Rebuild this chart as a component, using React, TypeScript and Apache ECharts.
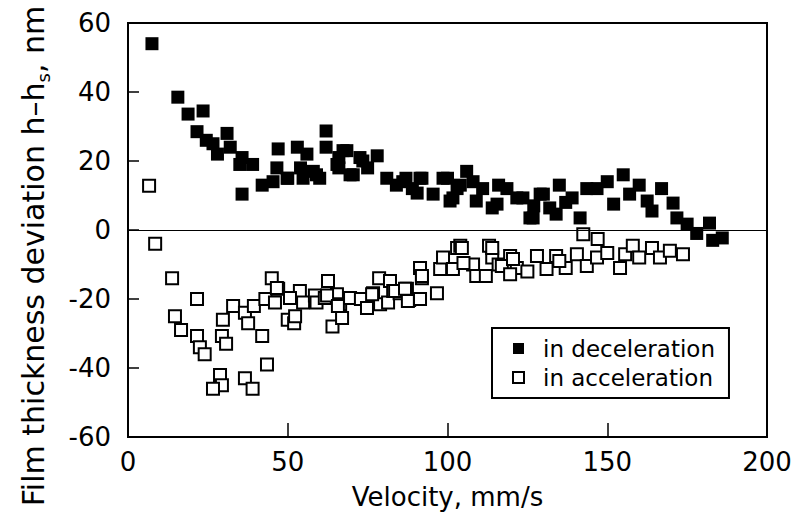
import React, { useEffect, useRef } from "react";
import * as echarts from "echarts";

const xTicks = [0, 50, 100, 150, 200];
const yTicks = [-60, -40, -20, 0, 20, 40, 60];

const decelVelocity = [
  7.5, 15.6, 18.8, 23.5, 21.6, 24.5, 31, 26.6, 28, 32, 35.7, 35, 39, 35.7, 42, 47, 46.6, 50, 53, 56,
  54, 58, 60, 62, 62, 66, 66, 68.5, 70.5, 72.6, 75, 78, 81, 84, 87, 89, 92, 95.5, 98.6, 100.8,
  100, 106, 101.7, 104, 108, 111, 114, 116, 118.6, 121.7, 125.8, 127, 129, 132, 135, 134, 137, 139, 141.5, 143.6,
  146.8, 150, 152, 155, 157, 160, 162.5, 167, 164, 170.6, 171.8, 175, 178, 182, 186, 183,
  67.3, 69.5, 73.5, 49.8, 54.8, 59, 45.4, 65.4, 86, 91.4, 90.5, 103, 109, 115.5, 123.6, 126.8, 130,
];
const decelDeviation = [
  54, 38.5, 33.6, 34.5, 28.5, 26, 28, 25, 22, 24, 21, 19, 19, 10.4, 13, 23.5, 18, 15, 24, 22,
  18, 17, 15, 28.7, 24, 21, 18, 23, 16, 21, 18, 21.5, 15, 13, 15, 12, 15, 10.4, 15, 8.4,
  15, 17, 9.3, 13, 14, 12, 6.4, 13, 12, 9.3, 3.5, 7, 10.4, 6.4, 13, 4.6, 8, 9.3, 3.5, 12,
  12, 14, 7.5, 16, 10.4, 13, 8.4, 12, 5.5, 7.8, 3.5, 1.7, -1, 2, -2.3, -3,
  23, 16, 20, 15, 15, 16, 14, 19, 14, 15, 10.7, 12, 8.4, 7.5, 9.3, 3.5, 10.4,
];

const accelVelocity = [
  6.6, 8.5, 13.8, 21.6, 14.7, 16.6, 21.6, 22.5, 24, 29.4, 30.7, 28.8, 29.4, 26.6, 36.6, 39, 43.5, 29.7, 32.9, 36.6,
  37.6, 39.4, 42, 43, 45, 46, 47, 50, 52, 51.6, 53.8, 54.8, 58.5, 59, 62.6, 61.6, 64, 65.4, 66.4, 67,
  69.5, 72.9, 74.8, 76.7, 78.6, 78.9, 81.4, 82, 83, 85, 87.3, 88, 91.4, 92, 91.4, 96.7, 97.7, 98.6, 101.7, 103,
  104, 108, 113, 111, 114, 116, 119.6, 121.7, 125, 128, 131, 134, 137, 140.5, 142.5, 143.6, 147, 146.8, 150, 154,
  155.6, 158, 160, 164, 166.5, 169.6, 173.7,
  46.6, 50.7, 52.3, 62.3, 65.7, 76.4, 83.6, 86.7, 87.6, 92, 104.5, 105, 109, 112, 114, 117, 120.5, 119.6, 135,
];
const accelDeviation = [
  12.8, -4, -14, -20, -25, -29, -30.7, -34, -36, -30.7, -33, -42, -45, -46, -43, -46, -39, -26, -22, -24,
  -27, -22, -30.7, -20, -14, -21, -17, -26, -27, -19.7, -17.7, -21, -19, -21, -14.8, -19.7, -28, -18.6, -21.5, -25.5,
  -19.7, -20, -22.6, -18.3, -14, -21.5, -21, -14.8, -17.7, -18.3, -17, -20.3, -11, -14, -20, -18.3, -11.3, -8, -11.3, -5.2,
  -4.6, -10, -4.6, -13.3, -8, -10, -7.5, -11, -12, -7.5, -11.3, -7.5, -11, -7, -1.2, -10.4, -2.6, -8, -6.7, -11,
  -7, -4.6, -8, -5.2, -8, -6, -7,
  -16.8, -19.7, -25, -19, -22, -18.6, -17.7, -17, -20.6, -13.3, -5.2, -9.6, -13.3, -13.3, -5.2, -10.4, -8.4, -12.8, -9,
];

const seriesNames = ["in deceleration", "in acceleration"];
const xTitle = "Velocity, mm/s";
const yTitle = "Film thickness deviation h–h{s|s}, nm";

const FONT = "DejaVu Sans";

export default function App() {
  const ref = useRef<HTMLDivElement>(null);
  useEffect(() => {
    if (!ref.current) return;
    const chart = echarts.init(ref.current, undefined, { renderer: "svg" });
    const decel = decelVelocity.map((v, i) => [v, decelDeviation[i]]);
    const accel = accelVelocity.map((v, i) => [v, accelDeviation[i]]);
    chart.setOption({
      animation: false,
      backgroundColor: "#fff",
      grid: {
        left: 128,
        right: 29,
        top: 23,
        bottom: 84,
        show: true,
        borderColor: "#000",
        borderWidth: 2,
      },
      xAxis: {
        type: "value",
        min: xTicks[0],
        max: xTicks[xTicks.length - 1],
        interval: 50,
        axisLine: { show: true, onZero: false, lineStyle: { color: "#000", width: 2 } },
        axisTick: { show: true, inside: true, length: 14, lineStyle: { color: "#000", width: 1.5 } },
        axisLabel: { fontSize: 26, color: "#000", fontFamily: FONT, margin: 12 },
        splitLine: { show: false },
        name: xTitle,
        nameLocation: "middle",
        nameGap: 47,
        nameTextStyle: { fontSize: 26, color: "#000", fontFamily: FONT },
      },
      yAxis: {
        type: "value",
        min: yTicks[0],
        max: yTicks[yTicks.length - 1],
        interval: 20,
        axisLine: { show: true, onZero: false, lineStyle: { color: "#000", width: 2 } },
        axisTick: { show: true, inside: true, length: 11, lineStyle: { color: "#000", width: 1.5 } },
        axisLabel: { fontSize: 26, color: "#000", fontFamily: FONT, margin: 17 },
        splitLine: { show: false },
      },
      legend: {
        left: 492,
        top: 328,
        orient: "vertical",
        borderColor: "#000",
        borderWidth: 2,
        padding: [9, 14, 9, 20],
        itemGap: 6,
        itemWidth: 11,
        itemHeight: 11,
        textStyle: { fontSize: 23, fontFamily: FONT, color: "#000", padding: [0, 0, 0, 14] },
        data: [
          { name: seriesNames[0], icon: "rect" },
          { name: seriesNames[1], icon: "rect" },
        ],
      },
      graphic: [
        {
          type: "text",
          x: 33,
          y: 256,
          rotation: Math.PI / 2,
          style: {
            text: yTitle,
            fontSize: 30,
            fontFamily: FONT,
            fill: "#000",
            align: "center",
            verticalAlign: "middle",
            lineHeight: 38,
            rich: {
              s: { fontSize: 18, fontFamily: FONT, fill: "#000", verticalAlign: "bottom", lineHeight: 38 },
            },
          },
        },
      ],
      series: [
        {
          name: seriesNames[1],
          type: "scatter",
          symbol: "rect",
          symbolSize: 12,
          itemStyle: { color: "#fff", borderColor: "#000", borderWidth: 2, opacity: 1 },
          data: accel,
        },
        {
          name: seriesNames[0],
          type: "scatter",
          symbol: "rect",
          symbolSize: 13,
          itemStyle: { color: "#000", opacity: 1 },
          data: decel,
          markLine: {
            silent: true,
            symbol: ["none", "none"],
            label: { show: false },
            lineStyle: { color: "#000", width: 1, type: "solid" },
            data: [{ yAxis: 0 }],
          },
        },
      ],
    });
    return () => chart.dispose();
  }, []);
  return <div ref={ref} style={{ width: 796, height: 521, position: "absolute", left: 0, top: 0 }} />;
}
